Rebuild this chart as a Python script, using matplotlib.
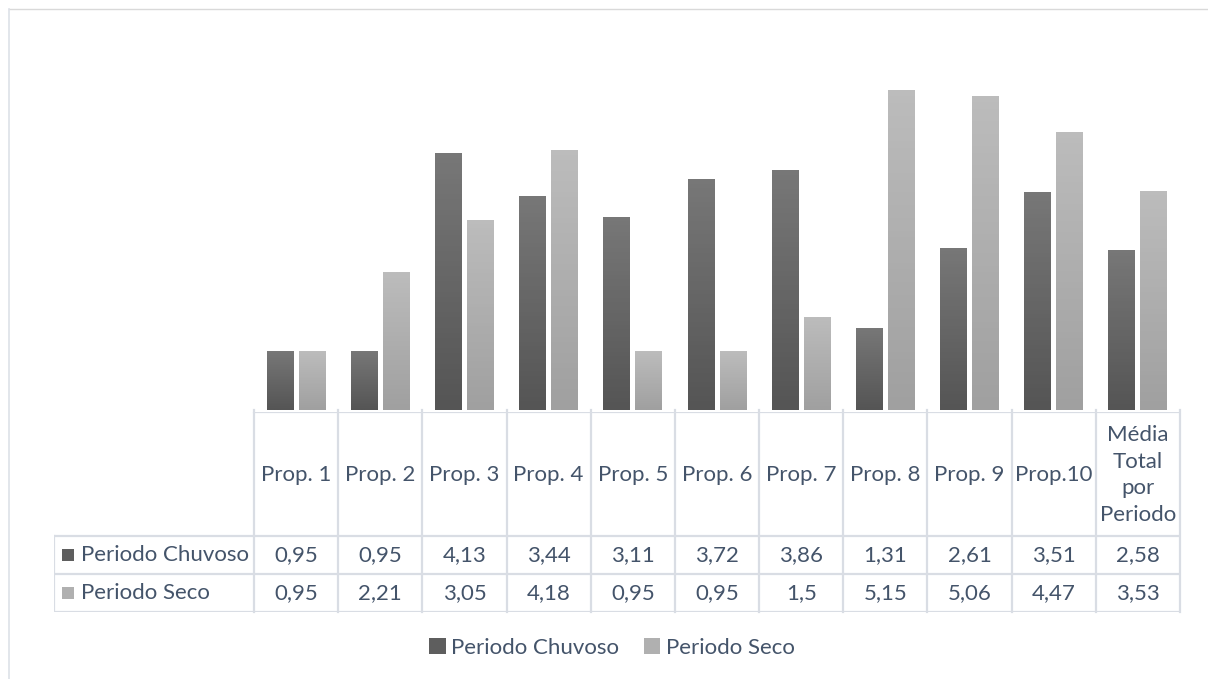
import matplotlib
matplotlib.use("Agg")
import matplotlib.pyplot as plt
from matplotlib.colors import LinearSegmentedColormap
from matplotlib.patches import Rectangle
from matplotlib.lines import Line2D
import numpy as np

categories = ["Prop. 1", "Prop. 2", "Prop. 3", "Prop. 4", "Prop. 5", "Prop. 6",
              "Prop. 7", "Prop. 8", "Prop. 9", "Prop.10", "Média\nTotal\npor\nPeriodo"]
series_names = ["Periodo Chuvoso", "Periodo Seco"]
chuvoso = [0.95, 0.95, 4.13, 3.44, 3.11, 3.72, 3.86, 1.31, 2.61, 3.51, 2.58]
seco = [0.95, 2.21, 3.05, 4.18, 0.95, 0.95, 1.5, 5.15, 5.06, 4.47, 3.53]

TXT = "#44546a"
GRID = "#d9dde4"
# gradient (bottom -> top) for each series, Excel style
GRADS = [("#555555", "#777777"), ("#a0a0a0", "#bcbcbc")]
KEYCOL = ["#5e5e5e", "#b0b0b0"]

plt.rcParams.update({"font.family": ["Lato", "DejaVu Sans"], "font.size": 16})

W, H = 1208, 679
fig = plt.figure(figsize=(W / 100, H / 100), dpi=100)

def fx(px): return px / W
def fy(py): return 1 - py / H

# chart area border (only top and left visible in the crop)
fig.add_artist(Line2D([fx(9), 1], [fy(9), fy(9)], color="#d9d9d9", lw=1.0))
fig.add_artist(Line2D([fx(9), fx(9)], [fy(9), 0], color="#dde1e8", lw=1.2))

# ---- bars ----
x0, x1 = 254, 1180
base_y, top_y = 410, 38
ax = fig.add_axes([fx(x0), fy(base_y), fx(x1) - fx(x0), fy(top_y) - fy(base_y)])
n = len(categories)
x = np.arange(n)
bw, off = 0.32, 0.19
for vals, (c_lo, c_hi), sgn in zip([chuvoso, seco], GRADS, [-1, 1]):
    cmap = LinearSegmentedColormap.from_list("g", [c_lo, c_hi])
    bars = ax.bar(x + sgn * off, vals, width=bw, color="none", edgecolor="none")
    for b in bars:
        bx, bwid, bh = b.get_x(), b.get_width(), b.get_height()
        grad = np.linspace(1, 0, 50).reshape(-1, 1)
        ax.imshow(grad, extent=[bx, bx + bwid, 0, bh], cmap=cmap, vmin=0, vmax=1,
                  aspect="auto", zorder=2)
ax.set_xlim(-0.5, n - 0.5)
ax.set_ylim(0, 6)
ax.axis("off")

# ---- data table ----
colw = (x1 - x0) / n
lab_left = 54
tbl_top, hdr_bot, r1_bot, r2_bot = 412, 536, 574, 612
tax = fig.add_axes([fx(lab_left), fy(r2_bot), fx(x1) - fx(lab_left), fy(tbl_top) - fy(r2_bot)])
tax.set_xlim(-0.5 - (x0 - lab_left) / colw, n - 0.5)
tax.set_ylim(r2_bot, tbl_top)
tax.axis("off")
lx = -0.5 - (x0 - lab_left) / colw
lw = 1.6
tax.plot([-0.5, n - 0.5], [tbl_top, tbl_top], color=GRID, lw=lw)
for yy in [hdr_bot, r1_bot, r2_bot]:
    tax.plot([lx, n - 0.5], [yy, yy], color=GRID, lw=lw)
for i in range(n + 1):
    tax.plot([i - 0.5, i - 0.5], [tbl_top - 2, r2_bot], color=GRID, lw=lw, clip_on=False)
tax.plot([lx, lx], [hdr_bot, r2_bot], color=GRID, lw=lw)

for i, c in enumerate(categories):
    tax.text(i, (tbl_top + hdr_bot) / 2 + 1, c, ha="center", va="center",
             color=TXT, linespacing=1.42)

def fmt(v):
    s = f"{v:.2f}".rstrip("0").rstrip(".") if v == round(v, 1) else f"{v:.2f}"
    return s.replace(".", ",")

for (y_a, y_b), name, vals, kc in zip([(hdr_bot, r1_bot), (r1_bot, r2_bot)],
                                     series_names, [chuvoso, seco], KEYCOL):
    yc = (y_a + y_b) / 2
    kx = lx + 8 / colw
    tax.add_patch(Rectangle((kx, yc - 5.5), 12 / colw, 12, facecolor=kc,
                            edgecolor="none"))
    tax.text(lx + 27 / colw, yc, name, ha="left", va="center", color=TXT)
    for i, v in enumerate(vals):
        tax.text(i, yc, fmt(v), ha="center", va="center", color=TXT)

# ---- legend ----
handles = [Rectangle((0, 0), 1, 1, facecolor=k, edgecolor="none") for k in KEYCOL]
fig.legend(handles, series_names, loc="center", bbox_to_anchor=(fx(612), fy(648)),
           ncol=2, frameon=False, handlelength=0.75, handleheight=0.75,
           handletextpad=0.25, columnspacing=1.1, labelcolor=TXT)

fig.savefig("out.png", dpi=100, facecolor="white")
